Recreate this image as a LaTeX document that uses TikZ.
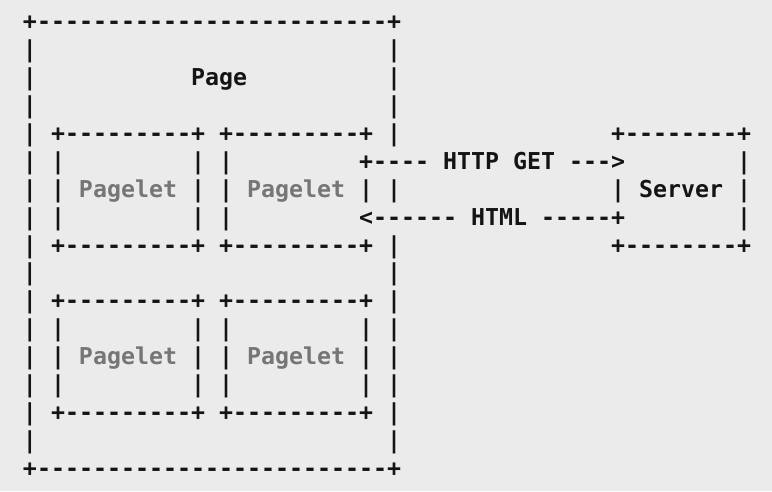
\documentclass[tikz,border=0pt]{standalone}
\usepackage{fontspec}
\setmonofont{DejaVu Sans Mono}
\definecolor{bg}{HTML}{EBEBEB}
\definecolor{ink}{HTML}{141414}
\definecolor{dim}{HTML}{767676}
\tikzset{
  ch/.style={inner sep=0pt,outer sep=0pt,anchor=base west,text=ink,
    font=\ttfamily\bfseries\fontsize{23.26pt}{28pt}\selectfont},
  dimch/.style={ch,text=dim}
}
\newcommand\tx[3]{\node[ch] (t-#1-#2) at (#1,#2) {#3};}
\newcommand\gx[3]{\node[dimch] (g-#1-#2) at (#1,#2) {#3};}
\begin{document}
\begin{tikzpicture}[x=14pt,y=-27.94pt]
\fill[bg] (-23pt,29.5pt) rectangle (749pt,-461.5pt);
\useasboundingbox (-23pt,29.5pt) rectangle (749pt,-461.5pt);
% row 0
\tx{0}{0}{+-------------------------+}
% row 1
\tx{0}{1}{|}\tx{26}{1}{|}
% row 2
\tx{0}{2}{|}\tx{12}{2}{Page}\tx{26}{2}{|}
% row 3
\tx{0}{3}{|}\tx{26}{3}{|}
% row 4
\tx{0}{4}{|}\tx{2}{4}{+---------+}\tx{14}{4}{+---------+}\tx{26}{4}{|}\tx{42}{4}{+--------+}
% row 5
\tx{0}{5}{|}\tx{2}{5}{|}\tx{12}{5}{|}\tx{14}{5}{|}
\tx{24}{5}{+----}\tx{30}{5}{HTTP}\tx{35}{5}{GET}\tx{39}{5}{--->}\tx{51}{5}{|}
% row 6
\tx{0}{6}{|}\tx{2}{6}{|}\gx{4}{6}{Pagelet}\tx{12}{6}{|}\tx{14}{6}{|}\gx{16}{6}{Pagelet}\tx{24}{6}{|}\tx{26}{6}{|}
\tx{42}{6}{|}\tx{44}{6}{Server}\tx{51}{6}{|}
% row 7
\tx{0}{7}{|}\tx{2}{7}{|}\tx{12}{7}{|}\tx{14}{7}{|}
\tx{24}{7}{<------}\tx{32}{7}{HTML}\tx{37}{7}{-----+}\tx{51}{7}{|}
% row 8
\tx{0}{8}{|}\tx{2}{8}{+---------+}\tx{14}{8}{+---------+}\tx{26}{8}{|}\tx{42}{8}{+--------+}
% row 9
\tx{0}{9}{|}\tx{26}{9}{|}
% row 10
\tx{0}{10}{|}\tx{2}{10}{+---------+}\tx{14}{10}{+---------+}\tx{26}{10}{|}
% row 11
\tx{0}{11}{|}\tx{2}{11}{|}\tx{12}{11}{|}\tx{14}{11}{|}\tx{24}{11}{|}\tx{26}{11}{|}
% row 12
\tx{0}{12}{|}\tx{2}{12}{|}\gx{4}{12}{Pagelet}\tx{12}{12}{|}\tx{14}{12}{|}\gx{16}{12}{Pagelet}\tx{24}{12}{|}\tx{26}{12}{|}
% row 13
\tx{0}{13}{|}\tx{2}{13}{|}\tx{12}{13}{|}\tx{14}{13}{|}\tx{24}{13}{|}\tx{26}{13}{|}
% row 14
\tx{0}{14}{|}\tx{2}{14}{+---------+}\tx{14}{14}{+---------+}\tx{26}{14}{|}
% row 15
\tx{0}{15}{|}\tx{26}{15}{|}
% row 16
\tx{0}{16}{+-------------------------+}
\end{tikzpicture}
\end{document}
